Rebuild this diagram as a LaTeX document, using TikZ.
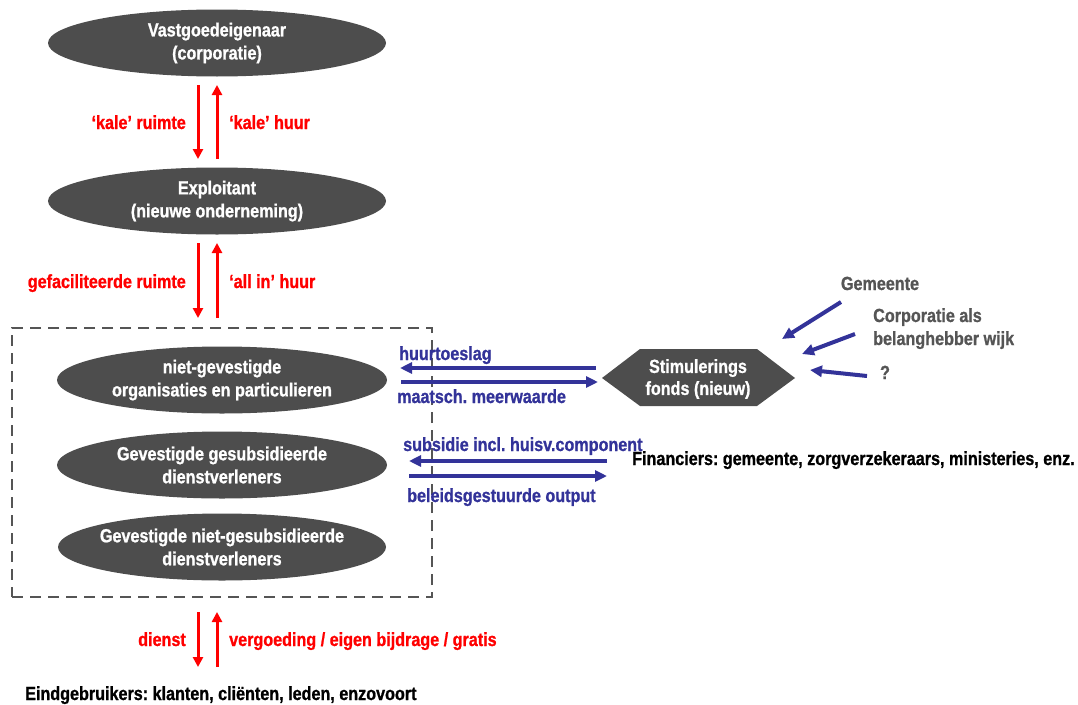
\documentclass[tikz,border=0pt]{standalone}
\usepackage{fontspec}
\setmainfont{Liberation Sans}[FakeStretch=0.85, BoldFeatures={FakeBold=1}]
\usetikzlibrary{arrows.meta,shapes.geometric}
\definecolor{slate}{HTML}{4D4D4D}
\definecolor{flowred}{HTML}{FF0000}
\definecolor{flowblue}{HTML}{333399}
\definecolor{txtgray}{HTML}{555555}
\frenchspacing

\begin{document}
\begin{tikzpicture}[x=1pt,y=-1pt,
  font=\fontsize{19}{23}\selectfont\bfseries,
  actor/.style={ellipse, fill=slate, text=white, align=center,
    inner xsep=-30pt, inner ysep=0pt, minimum width=#1, minimum height=67pt},
  groupbox/.style={draw=txtgray, line width=2.5pt, dash pattern=on 11pt off 7pt},
  redflow/.style={draw=flowred, line width=3pt, -{Triangle[length=10pt,width=10pt]}},
  blueflow/.style={draw=flowblue, line width=4pt, -{Triangle[length=12pt,width=11pt]}},
  redlbl/.style={text=flowred, inner sep=0pt},
  bluelbl/.style={text=flowblue, inner sep=0pt},
  graylbl/.style={text=txtgray, inner sep=0pt, align=left},
  blacklbl/.style={text=black, inner sep=0pt}]
\useasboundingbox (0,0) rectangle (1078,704);

% --- chain of parties ---
\node[actor=338pt] (owner)   at (217,43)  {Vastgoedeigenaar\\(corporatie)};
\node[actor=338pt] (exploit) at (217,201) {Exploitant\\(nieuwe onderneming)};

% --- tenants group ---
\node[groupbox, minimum width=420pt, minimum height=269pt] (tenants) at (222,462.5) {};
\node[actor=330pt] (tenantA) at (222,380) {niet-gevestigde\\organisaties en particulieren};
\node[actor=330pt] (tenantB) at (222,465) {Gevestigde gesubsidieerde\\dienstverleners};
\node[actor=328pt] (tenantC) at (222,547) {Gevestigde niet-gesubsidieerde\\dienstverleners};

% --- red flows owner <-> exploitant ---
\coordinate (o1) at (198,85);  \coordinate (o2) at (198,159);
\coordinate (o3) at (217,159); \coordinate (o4) at (217,85);
\draw[redflow] (o1) -- (o2);
\draw[redflow] (o3) -- (o4);
\node[redlbl, anchor=base east] (kr) at (186,129) {‘kale’ ruimte};
\node[redlbl, anchor=base west] (kh) at (229,129) {‘kale’ huur};

% --- red flows exploitant <-> tenants ---
\coordinate (e1) at (198,243); \coordinate (e2) at (198,318);
\coordinate (e3) at (217,318); \coordinate (e4) at (217,243);
\draw[redflow] (e1) -- (e2);
\draw[redflow] (e3) -- (e4);
\node[redlbl, anchor=base east] (gr) at (186,288) {gefaciliteerde ruimte};
\node[redlbl, anchor=base west] (ah) at (229,288) {‘all in’ huur};

% --- red flows tenants <-> end users ---
\coordinate (t1) at (198,612); \coordinate (t2) at (198,667);
\coordinate (t3) at (217,667); \coordinate (t4) at (217,612);
\draw[redflow] (t1) -- (t2);
\draw[redflow] (t3) -- (t4);
\node[redlbl, anchor=base east] (di) at (186,646) {dienst};
\node[redlbl, anchor=base west] (vg) at (229,646) {vergoeding / eigen bijdrage / gratis};
\node[blacklbl, anchor=base west] (users) at (25,700) {Eindgebruikers: klanten, cliënten, leden, enzovoort};

% --- stimulation fund ---
\fill[slate] (602,378) -- (640,349) -- (757,349) -- (795,378) -- (757,406) -- (640,406) -- cycle;
\node[text=white, align=center, inner sep=0pt, font=\fontsize{19}{22}\selectfont\bfseries] (fonds) at (698,379) {Stimulerings\\fonds (nieuw)};

\coordinate (f1) at (596,368); \coordinate (f2) at (400,368);
\coordinate (f3) at (401,382); \coordinate (f4) at (598,382);
\draw[blueflow] (f1) -- (f2);
\draw[blueflow] (f3) -- (f4);
\node[bluelbl, anchor=base west] (ht) at (399,360) {huurtoeslag};
\node[bluelbl, anchor=base west] (mm) at (397,403) {maatsch. meerwaarde};

% --- contributors to the fund ---
\node[graylbl, anchor=base] (gem) at (880,290) {Gemeente};
\node[graylbl, anchor=base west] (corp) at (873,345) {Corporatie als\\belanghebber wijk};
\node[graylbl, anchor=base] (q) at (885,379) {?};
\coordinate (g1) at (841,302); \coordinate (g2) at (782,339);
\coordinate (c1) at (855,334); \coordinate (c2) at (802,354);
\coordinate (q1) at (867,376); \coordinate (q2) at (810,370);
\draw[blueflow] (g1) -- (g2);
\draw[blueflow] (c1) -- (c2);
\draw[blueflow] (q1) -- (q2);

% --- financiers ---
\node[blacklbl, anchor=base west] (fin) at (632,465) {Financiers: gemeente, zorgverzekeraars, ministeries, enz.};
\coordinate (s1) at (607,461); \coordinate (s2) at (409,461);
\coordinate (s3) at (409,476); \coordinate (s4) at (607,476);
\draw[blueflow] (s1) -- (s2);
\draw[blueflow] (s3) -- (s4);
\node[bluelbl, anchor=base west] (sub) at (403,451) {subsidie incl. huisv.component};
\node[bluelbl, anchor=base west] (bo) at (407,502) {beleidsgestuurde output};
\end{tikzpicture}
\end{document}
